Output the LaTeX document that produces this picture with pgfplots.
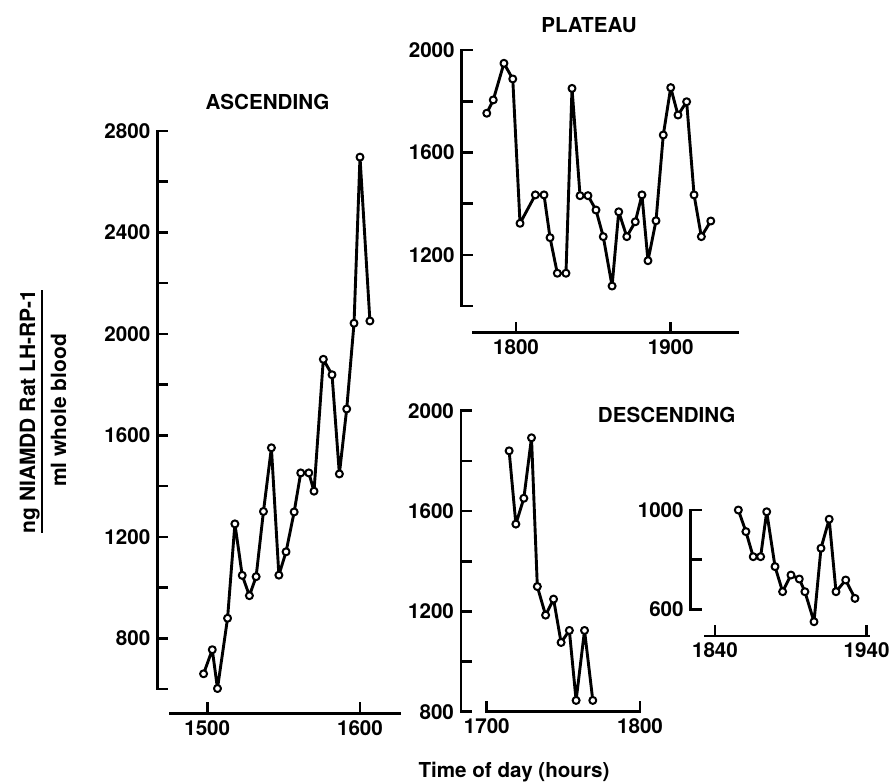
\documentclass[border=0pt]{standalone}
\usepackage{pgfplots}
\pgfplotsset{compat=1.18}
\usepackage{fontspec}
\setmainfont{TeX Gyre Heros}

\pgfplotsset{
  panel/.style={
    scale only axis, clip=false,
    axis x line=bottom, axis y line=left,
    axis line style={-, line width=1.3pt, black, line cap=rect},
    tick align=inside,
    major tick length=5.5pt, minor tick length=5.5pt,
    tick style={line width=1.3pt, black},
    ticklabel style={font=\fontsize{10.3}{12}\selectfont\bfseries},
    /pgf/number format/assume math mode=true,
    /pgf/number format/1000 sep={},
    anchor=south west,
  },
  dat/.style={black, line width=1.45pt, line join=round, mark=*, mark size=1.75pt,
    mark options={fill=white, draw=black, line width=1pt}},
}

\begin{document}
\begin{tikzpicture}
\useasboundingbox (0,0) rectangle (446.5pt,-391pt);

% ---------------- ASCENDING ----------------
\begin{axis}[panel,
  at={(157.3*0.5pt,-689*0.5pt)},
  width=121.35pt, height=279pt,
  xmin=1467.3, xmax=1626.2, ymin=600, ymax=2800,
  xtick={1500,1600},
  ytick={800,1200,1600,2000,2400,2800},
  minor ytick={600,1000,1400,1800,2200,2600},
  axis x line shift=12.15pt,
  x axis line style={shorten <=6.35pt},
]
\addplot[dat] coordinates {
(1497.6,660) (1503.3,755) (1506.7,602) (1513.3,879) (1518.1,1251)
(1522.9,1048) (1527.6,968) (1532,1043) (1536.8,1300) (1542,1551)
(1546.9,1049) (1551.6,1141) (1556.9,1298) (1561.2,1452) (1566.5,1452)
(1569.9,1380) (1576,1900) (1581.7,1839) (1586.5,1448) (1591.3,1704)
(1596.1,2042) (1600,2697) (1606.5,2051)};
\end{axis}

% ---------------- PLATEAU ----------------
\begin{axis}[panel,
  at={(461.7*0.5pt,-306*0.5pt)},
  width=138.15pt, height=128pt,
  xmin=1764.9, xmax=1943.5, ymin=1000, ymax=2000,
  xtick={1800,1900},
  ytick={1200,1600,2000},
  minor ytick={1000,1400,1800},
  axis x line shift=13.35pt,
  x axis line style={shorten <=5.65pt},
]
\addplot[dat] coordinates {
(1781.1,1753) (1785.3,1805) (1792.2,1948) (1797.9,1887) (1802.6,1323)
(1812.5,1434) (1818.1,1434) (1822,1267) (1826.7,1128) (1832.3,1128)
(1836.2,1850) (1841.4,1431) (1846.5,1431) (1851.7,1375) (1856.4,1271)
(1862.1,1078) (1866.4,1368) (1871.6,1271) (1877.1,1329) (1881.4,1434)
(1885.3,1177) (1890.5,1333) (1895.2,1668) (1900,1853) (1904.7,1746)
(1910.3,1798) (1915.1,1434) (1919.8,1271) (1925.9,1332)};
\end{axis}

% ---------------- DESCENDING 1 ----------------
\begin{axis}[panel,
  at={(461*0.5pt,-711.7*0.5pt)},
  width=89.5pt, height=150.5pt,
  xmin=1683.2, xmax=1800, ymin=800, ymax=2000,
  xtick={1700,1800},
  ytick={800,1200,1600,2000},
  minor ytick={1000,1400,1800},
  x axis line style={shorten <=12.85pt},
]
\addplot[dat] coordinates {
(1714.6,1840) (1719,1548) (1724.2,1651) (1729.2,1892) (1733,1299)
(1738.4,1185) (1743.6,1249) (1748.5,1076) (1753.9,1124) (1758.3,845)
(1763.8,1124) (1769.2,845)};
\end{axis}

% ---------------- DESCENDING 2 ----------------
\begin{axis}[panel,
  at={(690.7*0.5pt,-609.3*0.5pt)},
  width=88.8pt, height=49.65pt,
  xmin=1824, xmax=1941.1, ymin=600, ymax=1000,
  xtick={1840,1940},
  ytick={600,1000},
  minor ytick={800},
  axis x line shift=13.35pt,
  x axis line style={shorten <=7.15pt},
]
\addplot[dat] coordinates {
(1855.4,1000) (1860.4,913) (1865.2,812) (1870.1,812) (1874.1,993)
(1879.6,772) (1884.6,671) (1890.1,738) (1895.6,722) (1899.3,671)
(1905.3,550) (1909.9,846) (1915.3,963) (1919.8,671) (1926.2,718)
(1932.3,644)};
\end{axis}

% ---------------- texts ----------------
\begin{scope}[every node/.style={font=\fontsize{10.3}{12}\selectfont\bfseries, inner sep=0pt}]
\node at (267.5*0.5pt,-101.7*0.5pt) {ASCENDING};
\node at (589*0.5pt,-25*0.5pt) {PLATEAU};
\node at (666.7*0.5pt,-415*0.5pt) {DESCENDING};
\node at (514*0.5pt,-771.7*0.5pt) {Time of day (hours)};
\node[rotate=90, anchor=base, font=\fontsize{10.5}{12}\selectfont\bfseries] at (35*0.5pt,-411.5*0.5pt) {ng NIAMDD Rat LH-RP-1};
\node[rotate=90, anchor=base, font=\fontsize{10.5}{12}\selectfont\bfseries] at (66*0.5pt,-410.5*0.5pt) {ml whole blood};
\end{scope}
\draw[line width=0.9pt] (41.7*0.5pt,-290*0.5pt) -- (41.7*0.5pt,-533*0.5pt);
\end{tikzpicture}
\end{document}
